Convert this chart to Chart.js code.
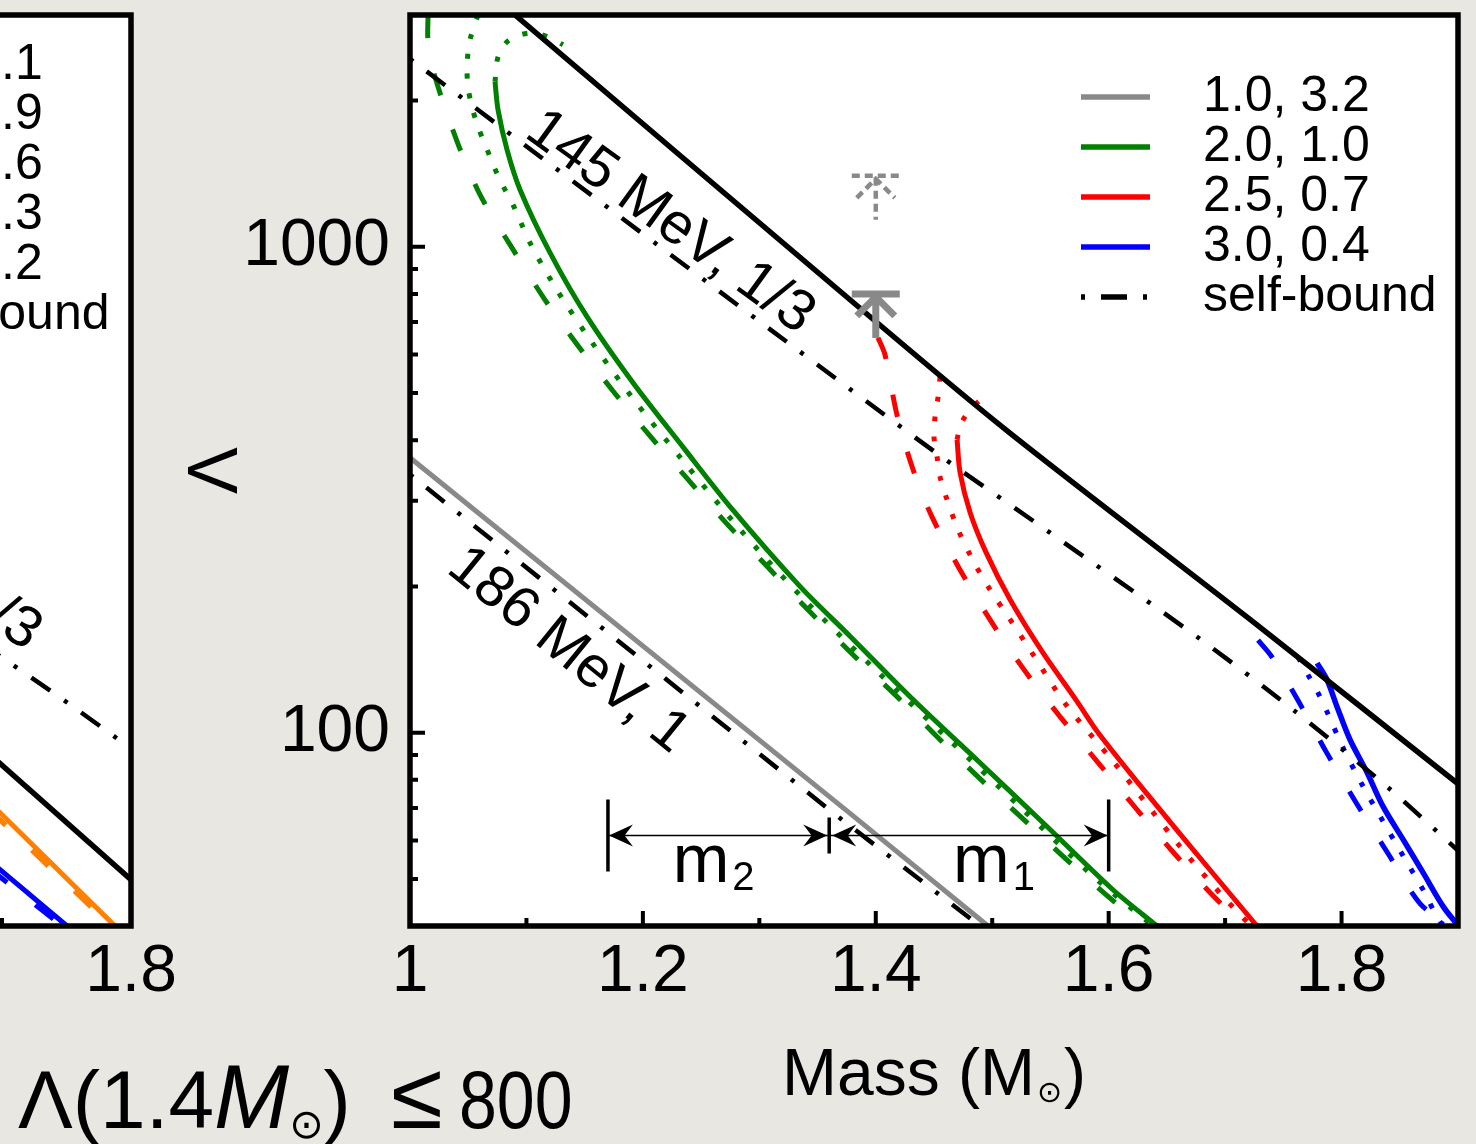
<!DOCTYPE html>
<html>
<head>
<meta charset="utf-8">
<title>Tidal deformability vs mass</title>
<script src="https://cdn.jsdelivr.net/npm/chart.js@4.4.1/dist/chart.umd.min.js"></script>
<style>
  html, body { margin: 0; padding: 0; }
  body { width: 1476px; height: 1144px; overflow: hidden; position: relative; background: #e8e7e1; font-family: 'Liberation Sans', Arial, sans-serif; }
  canvas { position: absolute; top: 0; }
  #leftPanel { left: -960px; }
  #mainPanel { left: 0; }
  #bound { position: absolute; left: 18px; top: 1059px; font-size: 82px; line-height: 1; white-space: nowrap; color: #000; }
  #bound i { font-size: 1.1em; line-height: 0; }
  #bound sub { font-size: 0.5em; line-height: 0; vertical-align: -0.25em; font-family: 'DejaVu Sans', sans-serif; }
  #bound .le { font-size: 1.15em; line-height: 0; margin: 0 16px 0 40px; }
  #bound .num { display: inline-block; transform: scaleX(0.83); transform-origin: left center; }
</style>
</head>
<body>
<canvas id="leftPanel" width="1200" height="1144"></canvas>
<canvas id="mainPanel" width="1476" height="1144"></canvas>
<div id="bound">Λ(1.4<i>M</i><sub>⊙</sub>)<span class="le">≤</span><span class="num">800</span></div>
<script>
Chart.defaults.font.family = "'Liberation Sans', Arial, sans-serif";
Chart.defaults.color = '#000';

// axis ticks
const xMajorTicks = [1, 1.2, 1.4, 1.6, 1.8];
const xMinorTicks = [1.1, 1.3, 1.5, 1.7];
const yMajorTicks = [100, 1000];
const yMinorTicks = [40, 50, 60, 70, 80, 90, 200, 300, 400, 500, 600, 700, 800, 900, 2000, 3000];

// legends
const legendLabels = ['1.0, 3.2', '2.0, 1.0', '2.5, 0.7', '3.0, 0.4', 'self-bound'];
const legendColors = ['#898989', '#008000', '#ff0000', '#0000ff', '#000000'];
const leftLegendLabels = ['0.5, 2.1', '1.0, 1.9', '1.5, 1.6', '2.0, 1.3', '2.5, 1.2', 'self-bound'];
const leftLegendColors = ['#898989', '#008000', '#ff8000', '#ff0000', '#0000ff', '#000000'];

// [mass, Lambda]
const selfBound145 = [[1.0, 2437], [1.4363, 401], [1.5496, 258], [1.6767, 157], [1.7583, 111.5], [1.8391, 77.4], [1.9, 57.2]];
const limit145 = [[1.0902, 3000], [1.3779, 778], [1.5118, 420], [1.7214, 171], [1.9, 78.5]];
const selfBound186 = [[1.0, 340], [1.3633, 68.4], [1.4895, 40]];
const gray = [[1.0, 368], [1.3779, 68.2], [1.4964, 40]];

const greenSolid = [[1.073, 2188], [1.0756, 1915], [1.0833, 1585], [1.0945, 1311], [1.1202, 973], [1.152, 718],
  [1.1915, 525], [1.2345, 387], [1.2774, 287], [1.3349, 200], [1.3779, 158], [1.432, 117], [1.4895, 86.7],
  [1.547, 64.1], [1.6037, 47.5], [1.6415, 40]];
const greenArc = [[1.073, 2188], [1.0756, 2460], [1.0833, 2642], [1.0945, 2730], [1.1074, 2755], [1.1202, 2691], [1.1314, 2605]];
const greenDotted = [[1.0584, 3000], [1.0515, 2667], [1.049, 2369], [1.0498, 2134], [1.0532, 1942], [1.0584, 1766],
  [1.0653, 1606], [1.0721, 1461], [1.0799, 1335], [1.0885, 1220], [1.1039, 1010], [1.1262, 815], [1.1546, 644],
  [1.1924, 484], [1.2336, 365], [1.2834, 262], [1.3384, 188], [1.3993, 135], [1.4629, 96.7], [1.5264, 69.4],
  [1.59, 49.8], [1.6381, 40]];
const greenDashed = [[1.0155, 3000], [1.0155, 2650], [1.0215, 2238], [1.0412, 1629], [1.061, 1268], [1.0876, 995],
  [1.1159, 778], [1.1443, 626], [1.1743, 505], [1.2061, 408], [1.2387, 332], [1.2722, 269], [1.3066, 220],
  [1.3418, 179], [1.3822, 143.3], [1.4208, 117], [1.4569, 95.8], [1.493, 78.9], [1.5299, 65.3], [1.5668, 54.0],
  [1.6037, 45.1], [1.6321, 40]];

const redSolid = [[1.4698, 401], [1.4724, 343], [1.481, 284], [1.4947, 235], [1.5153, 188], [1.5428, 147],
  [1.5728, 116], [1.591, 100], [1.633, 74.8], [1.6896, 51.3], [1.7274, 40]];
const redArc = [[1.4698, 401], [1.4724, 427], [1.4766, 447], [1.4835, 469], [1.4921, 489]];
const redDotted = [[1.4552, 540], [1.4535, 491], [1.4509, 447], [1.45, 406], [1.4526, 370], [1.4552, 336],
  [1.4603, 306], [1.4706, 262], [1.4844, 224], [1.4981, 197], [1.5153, 171], [1.5325, 148], [1.5634, 114.2],
  [1.6046, 86.8], [1.6613, 58.3], [1.6982, 46.0], [1.7223, 40]];
const redDashed = [[1.4019, 650], [1.4079, 600], [1.4182, 451], [1.432, 348], [1.4483, 278], [1.4723, 216.5],
  [1.4981, 170.8], [1.5273, 134.8], [1.5582, 107.9], [1.5909, 86.8], [1.6244, 69.4], [1.6587, 55.6],
  [1.6931, 45.3], [1.7171, 40]];

const blueSolid = [[1.779, 139], [1.7875, 128.5], [1.7961, 113.1], [1.8073, 96.7], [1.8219, 82.8], [1.8356, 70.5],
  [1.8528, 60.3], [1.87, 51.5], [1.8872, 43.9], [1.8992, 40.3]];
const blueDotted = [[1.7626, 143], [1.7712, 131.5], [1.7798, 120.8], [1.7875, 110.4], [1.8013, 93.1], [1.8176, 78.2],
  [1.8348, 66.2], [1.8528, 55.8], [1.87, 47.5], [1.8846, 40.8], [1.891, 40]];
const blueDashed = [[1.7283, 155], [1.7403, 143], [1.7618, 117.4], [1.7867, 91.4], [1.8124, 71.8], [1.8399, 56.4],
  [1.8674, 44.5], [1.8932, 40]];

// visible part of the left panel
const leftLimit = [[1.69, 90.5], [1.8, 49.8]];
const leftOrangeSolid = [[1.69, 72], [1.7876, 40]];
const leftOrangeDashed = [[1.69, 69.5], [1.7845, 40]];
const leftBlueSolid = [[1.69, 54.6], [1.7504, 40]];
const leftBlueDashed = [[1.69, 52.6], [1.7465, 40]];

// annotations
const boundMass = 1.4;
const lambdaBound = 800;
const oldLambdaBound = 1400;
const m2Range = [1.17, 1.36];
const m1Range = [1.36, 1.60];
const lineLabels = ['145 MeV, 1/3', '186 MeV, 1'];

const FONT = "'Liberation Sans', Arial, sans-serif";
const DOT = [5, 15], DASH = [23, 36], DASHDOT = [4, 17, 23, 17];

function curve(points, color, width, dash, tension) {
  return {
    data: points.map(p => ({x: p[0], y: p[1]})),
    borderColor: color,
    borderWidth: width,
    borderDash: dash || [],
    borderCapStyle: 'butt',
    pointRadius: 0,
    tension: tension === undefined ? 0.3 : tension,
    fill: false,
    clip: 0
  };
}

function isMajorX(v) { return xMajorTicks.some(m => Math.abs(m - v) < 1e-6); }

function makeScales(xMax, yWidth, showTitle) {
  return {
    x: {
      type: 'linear', min: 1, max: xMax,
      grid: {display: false, drawTicks: false}, border: {display: false},
      afterBuildTicks: s => { s.ticks = xMajorTicks.concat(xMinorTicks).sort((a, b) => a - b).map(v => ({value: v})); },
      afterFit: s => { s.height = 218; s.paddingLeft = 0; s.paddingRight = 0; },
      ticks: {
        autoSkip: false, maxRotation: 0, padding: 7, font: {size: 66},
        callback: v => { const t = xMajorTicks.find(m => Math.abs(m - v) < 1e-6); return t === undefined ? '' : String(t); }
      }
    },
    y: {
      type: 'logarithmic', min: 40, max: 3000,
      grid: {display: false, drawTicks: false}, border: {display: false},
      afterBuildTicks: s => { s.ticks = yMinorTicks.concat(yMajorTicks).sort((a, b) => a - b).map(v => ({value: v})); },
      afterFit: s => { s.width = yWidth; s.paddingTop = 0; s.paddingBottom = 0; },
      ticks: {autoSkip: false, padding: 20, font: {size: 66}, callback: v => yMajorTicks.includes(v) ? String(v) : ''},
      title: {display: showTitle, text: 'Λ', font: {size: 70}, padding: {top: 176, bottom: 0}}
    }
  };
}

// white plot area, inward ticks and the heavy frame
const framePlugin = {
  id: 'frame',
  beforeDraw(chart) {
    const {ctx, chartArea: a} = chart;
    ctx.save();
    ctx.fillStyle = '#fff';
    ctx.fillRect(a.left, a.top, a.right - a.left, a.bottom - a.top);
    ctx.restore();
  },
  afterDatasetsDraw(chart) {
    const {ctx, chartArea: a, scales: {x, y}} = chart;
    ctx.save();
    ctx.strokeStyle = '#000';
    ctx.lineWidth = 4;
    ctx.beginPath();
    x.ticks.forEach(t => {
      const px = x.getPixelForValue(t.value);
      const len = isMajorX(t.value) ? 15 : 8;
      ctx.moveTo(px, a.bottom);
      ctx.lineTo(px, a.bottom - len);
    });
    y.ticks.forEach(t => {
      const py = y.getPixelForValue(t.value);
      const len = yMajorTicks.includes(t.value) ? 15 : 8;
      ctx.moveTo(a.left, py);
      ctx.lineTo(a.left + len, py);
    });
    ctx.stroke();
    ctx.lineWidth = 5.5;
    ctx.strokeRect(a.left, a.top, a.right - a.left, a.bottom - a.top);
    ctx.restore();
  }
};

function drawLegend(ctx, a, labels, colors, firstRow) {
  ctx.save();
  ctx.font = '50px ' + FONT;
  ctx.textBaseline = 'middle';
  ctx.textAlign = 'left';
  labels.forEach((lab, i) => {
    const yy = a.top + firstRow + i * 50;
    ctx.strokeStyle = colors[i];
    ctx.lineWidth = 5.5;
    ctx.setLineDash(lab === 'self-bound' ? [4, 16, 26, 16] : []);
    ctx.beginPath();
    ctx.moveTo(a.right - 377, yy);
    ctx.lineTo(a.right - 308, yy);
    ctx.stroke();
    ctx.fillStyle = '#000';
    ctx.fillText(lab, a.right - 255, yy);
  });
  ctx.restore();
}

function lineAngle(chart, pts) {
  const {x, y} = chart.scales;
  const p0 = pts[0], p1 = pts[pts.length - 1];
  return Math.atan2(y.getPixelForValue(p1[1]) - y.getPixelForValue(p0[1]),
                    x.getPixelForValue(p1[0]) - x.getPixelForValue(p0[0]));
}

function rotatedText(chart, text, mass, lambda, angle, align) {
  const {ctx, scales: {x, y}} = chart;
  ctx.save();
  ctx.translate(x.getPixelForValue(mass), y.getPixelForValue(lambda));
  ctx.rotate(angle);
  ctx.font = '58px ' + FONT;
  ctx.fillStyle = '#000';
  ctx.textAlign = align;
  ctx.textBaseline = 'alphabetic';
  ctx.fillText(text, 0, 0);
  ctx.restore();
}

function subText(ctx, main, sub, cx, baseY, size, subSize, drop) {
  ctx.font = size + 'px ' + FONT;
  const w1 = ctx.measureText(main).width;
  ctx.font = subSize + 'px ' + FONT;
  const w2 = ctx.measureText(sub).width;
  const x0 = cx - (w1 + w2 + 3) / 2;
  ctx.font = size + 'px ' + FONT;
  ctx.fillText(main, x0, baseY);
  ctx.font = subSize + 'px ' + FONT;
  ctx.fillText(sub, x0 + w1 + 3, baseY + drop);
}

function arrowHead(ctx, tipX, yy, dir) {
  const L = 24, W = 11;
  ctx.beginPath();
  ctx.moveTo(tipX, yy);
  ctx.lineTo(tipX - dir * L, yy - W);
  ctx.lineTo(tipX - dir * L * 0.65, yy);
  ctx.lineTo(tipX - dir * L, yy + W);
  ctx.closePath();
  ctx.fill();
}

const mainAnnotations = {
  id: 'mainAnnotations',
  afterDatasetsDraw(chart) {
    const {ctx, chartArea: a, scales: {x, y}} = chart;

    // the label sits a little flatter than its line
    rotatedText(chart, lineLabels[0], 1.097, 1690, lineAngle(chart, selfBound145) - 0.022, 'left');
    rotatedText(chart, lineLabels[1], 1.0301, 215, lineAngle(chart, gray), 'left');

    // Lambda(1.4) upper bounds
    const bx = x.getPixelForValue(boundMass);
    ctx.save();
    ctx.strokeStyle = '#898989';
    [[lambdaBound, 7, []], [oldLambdaBound, 4.5, [8, 5]]].forEach(([v, w, dash]) => {
      const by = y.getPixelForValue(v);
      ctx.lineWidth = w;
      ctx.setLineDash(dash);
      ctx.beginPath();
      ctx.moveTo(bx - 24, by); ctx.lineTo(bx + 24, by);
      ctx.moveTo(bx, by + 2); ctx.lineTo(bx, by + 44);
      ctx.moveTo(bx - 19, by + 22); ctx.lineTo(bx, by + 3); ctx.lineTo(bx + 19, by + 22);
      ctx.stroke();
    });
    ctx.restore();

    // GW170817 component mass ranges
    const ly = y.getPixelForValue(61.4);
    const p0 = x.getPixelForValue(m2Range[0]), p1 = x.getPixelForValue(m2Range[1]), p2 = x.getPixelForValue(m1Range[1]);
    ctx.save();
    ctx.strokeStyle = '#000';
    ctx.fillStyle = '#000';
    ctx.lineWidth = 1.5;
    ctx.beginPath(); ctx.moveTo(p0, ly); ctx.lineTo(p2, ly); ctx.stroke();
    ctx.lineWidth = 3.5;
    ctx.beginPath();
    ctx.moveTo(p0, ly - 36); ctx.lineTo(p0, ly + 36);
    ctx.moveTo(p1, ly - 18); ctx.lineTo(p1, ly + 18);
    ctx.moveTo(p2, ly - 36); ctx.lineTo(p2, ly + 36);
    ctx.stroke();
    arrowHead(ctx, p0 + 1, ly, -1);
    arrowHead(ctx, p1 - 2, ly, 1);
    arrowHead(ctx, p1 + 3, ly, -1);
    arrowHead(ctx, p2 - 1, ly, 1);
    ctx.textBaseline = 'alphabetic';
    subText(ctx, 'm', '2', (p0 + p1) / 2 - 5, ly + 46, 68, 40, 8);
    subText(ctx, 'm', '1', (p1 + p2) / 2 + 25, ly + 46, 68, 40, 8);

    // x axis title with subscript sun symbol
    ctx.font = '66px ' + FONT;
    const w1 = ctx.measureText('Mass (M').width;
    const w3 = ctx.measureText(')').width;
    ctx.font = "30px 'DejaVu Sans', sans-serif";
    const w2 = ctx.measureText('⊙').width;
    const tx = (a.left + a.right) / 2 - (w1 + w2 + w3 + 4) / 2;
    const ty = 1095;
    ctx.font = '66px ' + FONT;
    ctx.fillText('Mass (M', tx, ty);
    ctx.font = "30px 'DejaVu Sans', sans-serif";
    ctx.fillText('⊙', tx + w1 + 2, ty + 7);
    ctx.font = '66px ' + FONT;
    ctx.fillText(')', tx + w1 + w2 + 4, ty);
    ctx.restore();

    drawLegend(ctx, a, legendLabels, legendColors, 82);
  }
};

const leftAnnotations = {
  id: 'leftAnnotations',
  afterDatasetsDraw(chart) {
    const {ctx, chartArea: a} = chart;
    rotatedText(chart, lineLabels[0], 1.7186, 147, lineAngle(chart, selfBound145), 'right');
    drawLegend(ctx, a, leftLegendLabels, leftLegendColors, 50);
  }
};

const common = {
  responsive: false,
  animation: false,
  devicePixelRatio: 1,
  events: [],
  plugins: {legend: {display: false}, tooltip: {enabled: false}}
};

new Chart(document.getElementById('mainPanel'), {
  type: 'line',
  data: {
    datasets: [
      curve(selfBound145, '#000', 4.5, DASHDOT),
      curve(limit145, '#000', 5.5, []),
      curve(selfBound186, '#000', 4.5, DASHDOT, 0),
      curve(gray, '#898989', 5, [], 0),
      curve(greenDashed, '#008000', 5, DASH),
      curve(greenDotted, '#008000', 5, DOT),
      curve(greenArc, '#008000', 5, DOT),
      curve(greenSolid, '#008000', 5),
      curve(redDashed, '#ff0000', 5, DASH),
      curve(redDotted, '#ff0000', 5, DOT),
      curve(redArc, '#ff0000', 5, DOT),
      curve(redSolid, '#ff0000', 5),
      curve(blueDashed, '#0000ff', 5, DASH),
      curve(blueDotted, '#0000ff', 5, DOT),
      curve(blueSolid, '#0000ff', 5.5)
    ]
  },
  options: Object.assign({}, common, {
    layout: {padding: {left: 0, right: 18, top: 15, bottom: 0}},
    scales: makeScales(1.9, 410, true)
  }),
  plugins: [framePlugin, mainAnnotations]
});

new Chart(document.getElementById('leftPanel'), {
  type: 'line',
  data: {
    datasets: [
      curve(selfBound145, '#000', 4.5, DASHDOT),
      curve(leftLimit, '#000', 5.5, [], 0),
      curve(leftOrangeDashed, '#ff8000', 5, DASH, 0),
      curve(leftOrangeSolid, '#ff8000', 5, [], 0),
      curve(leftBlueDashed, '#0000ff', 5, DASH, 0),
      curve(leftBlueSolid, '#0000ff', 5, [], 0)
    ]
  },
  options: Object.assign({}, common, {
    layout: {padding: {left: 0, right: 109, top: 15, bottom: 0}},
    scales: makeScales(1.8, 59, false)
  }),
  plugins: [framePlugin, leftAnnotations]
});
</script>
</body>
</html>
